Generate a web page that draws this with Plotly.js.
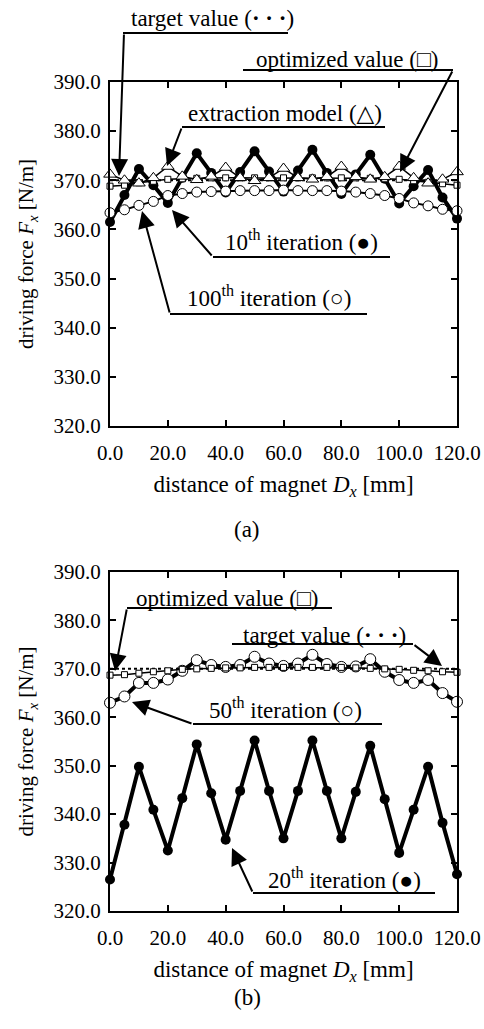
<!DOCTYPE html>
<html><head><meta charset="utf-8">
<script src="https://cdn.plot.ly/plotly-3.0.1.min.js"></script>
<style>body{margin:0;background:#fff}#plot{width:484px;height:1029px}</style>
</head><body><div id="plot"></div>
<script>
// distance of magnet Dx [mm]
const distance = [0,5,10,15,20,25,30,35,40,45,50,55,60,65,70,75,80,85,90,95,100,105,110,115,120];
// (a)
const a_iter10 = [361.5,367.0,372.3,369.0,365.4,370.5,375.5,371.5,367.5,371.7,375.9,371.8,367.7,372.0,376.2,371.5,367.2,371.2,375.2,370.3,365.3,368.8,372.1,366.5,362.2];
const a_iter100 = [363.4,364.0,364.9,365.7,366.9,367.3,367.6,367.7,367.8,367.9,367.9,367.9,368.0,367.9,367.9,367.9,367.8,367.6,367.3,366.9,366.3,365.4,364.8,364.1,363.8];
const a_extraction = [371.2,370.0,369.4,370.5,372.8,370.8,370.1,370.8,372.6,370.5,369.9,370.5,372.4,370.5,370.2,370.7,372.8,370.7,370.2,370.7,372.8,370.5,369.4,370.2,371.7];
const a_optimized = [368.8,369.0,369.5,369.8,370.2,370.3,370.4,370.5,370.5,370.5,370.5,370.5,370.5,370.5,370.5,370.5,370.5,370.5,370.4,370.3,370.2,369.9,369.6,369.3,369.0];
// (b)
const b_iter20 = [326.5,337.8,349.8,340.9,332.5,343.3,354.4,344.3,334.7,344.8,355.2,344.8,335.0,344.8,355.2,344.8,335.0,344.6,354.1,343.1,332.0,340.9,349.8,338.2,327.6];
const b_iter50 = [363.0,364.3,367.1,367.1,367.8,369.6,371.8,370.8,370.4,370.8,372.5,371.1,370.6,371.1,372.9,371.0,370.4,370.5,372.0,369.4,367.7,367.1,367.7,365.0,363.2];
const b_optimized = [368.7,368.8,369.1,369.4,369.6,369.9,370.0,370.1,370.2,370.2,370.3,370.3,370.3,370.3,370.3,370.3,370.3,370.2,370.1,370.0,369.9,369.7,369.6,369.4,369.3];
const targetX = [0,120];
const targetY = [370,370];
const xTicks = [0,20,40,60,80,100,120];
const yTicks = [320,330,340,350,360,370,380,390];

const W=484,H=1029;
const px=x=>x/W, py=y=>1-y/H;
const FONT='"Liberation Serif", "DejaVu Serif", serif';

function tr(x,y,xa,ya,o){return Object.assign({x:x,y:y,xaxis:xa,yaxis:ya,type:'scatter',showlegend:false,cliponaxis:false,hoverinfo:'skip'},o);}
const traces=[
 tr(distance,a_iter10,'x','y',{mode:'lines+markers',line:{color:'#000',width:4},marker:{symbol:'circle',size:10,color:'#000'}}),
 tr(distance,a_iter100,'x','y',{mode:'lines+markers',line:{color:'#000',width:2},marker:{symbol:'circle',size:10,color:'#fff',line:{color:'#000',width:1}}}),
 tr(targetX,targetY,'x','y',{mode:'lines',line:{color:'#000',width:2,dash:'dot'}}),
 tr(distance,a_optimized,'x','y',{mode:'lines+markers',line:{color:'#000',width:1.5},marker:{symbol:'square',size:6,color:'#fff',line:{color:'#000',width:1}}}),
 tr(distance,a_extraction,'x','y',{mode:'lines+markers',line:{color:'#000',width:1.5},marker:{symbol:'triangle-up',size:11,color:'#fff',line:{color:'#000',width:1}}}),
 tr(distance,b_iter20,'x2','y2',{mode:'lines+markers',line:{color:'#000',width:4},marker:{symbol:'circle',size:10,color:'#000'}}),
 tr(distance,b_iter50,'x2','y2',{mode:'lines+markers',line:{color:'#000',width:4},marker:{symbol:'circle',size:11,color:'#fff',line:{color:'#000',width:1}}}),
 tr(targetX,targetY,'x2','y2',{mode:'lines',line:{color:'#000',width:2,dash:'dot'}}),
 tr(distance,b_optimized,'x2','y2',{mode:'lines+markers',line:{color:'#000',width:1.5},marker:{symbol:'square',size:6,color:'#fff',line:{color:'#000',width:1}}})
];

function xa(dom,anchor){return {domain:dom,anchor:anchor,range:[0,120],tickvals:xTicks,tickformat:'.1f',ticks:'inside',ticklen:6,tickwidth:2,tickcolor:'#000',
 showline:true,linewidth:2,linecolor:'#000',mirror:'ticks',showgrid:false,zeroline:false,tickfont:{family:FONT,size:21,color:'#000'},ticklabelstandoff:7,
 title:{text:'distance of magnet <i>D</i><sub><i>x</i></sub> [mm]',font:{family:FONT,size:23,color:'#000'},standoff:12}};}
function ya(dom,anchor){return {domain:dom,anchor:anchor,range:[320,390],tickvals:yTicks,tickformat:'.1f',ticks:'inside',ticklen:6,tickwidth:2,tickcolor:'#000',
 showline:true,linewidth:2,linecolor:'#000',mirror:'ticks',showgrid:false,zeroline:false,tickfont:{family:FONT,size:21,color:'#000'},ticklabelstandoff:3,
 title:{text:'driving force <i>F</i><sub><i>x</i></sub> [N/m]',font:{family:FONT,size:21,color:'#000'},standoff:14}};}

const xdom=[px(110),px(457)];
const layout={width:W,height:H,margin:{l:0,r:0,t:0,b:0},paper_bgcolor:'#fff',plot_bgcolor:'#fff',showlegend:false,
 font:{family:FONT,color:'#000'},
 xaxis:xa(xdom,'y'), yaxis:ya([py(426),py(82)],'x'),
 xaxis2:xa(xdom,'y2'), yaxis2:ya([py(911),py(572)],'x2'),
 shapes:[],annotations:[]};

// labels: [text, cx, cy, underline x0, x1, y, tail x, tail y, tip x, tip y]
const labels=[
 ['target value (<b>· · ·</b>)',212,18,123,288,33,124,33,119,176],
 ['optimized value (□)',347,60,243,453,70,453,70,400,172],
 ['extraction model (△)',285,113,182,385,127,182,127,167,166],
 ['10<sup>th</sup> iteration (●)',301,240,213,390,257,213,257,172,210],
 ['100<sup>th</sup> iteration (○)',269,297,170,367,314,170,314,142,211],
 ['optimized value (□)',227,598,127,332,608,127,608,115,671],
 ['target value (<b>· · ·</b>)',324,635,232,413,644,413,644,442,666],
 ['50<sup>th</sup> iteration (○)',285,708,193,382,724,193,724,132,702],
 ['20<sup>th</sup> iteration (●)',344,878,253,435,893,253,893,232,848]
];
labels.forEach(l=>{
 layout.annotations.push({text:l[0],xref:'paper',yref:'paper',x:px(l[1]),y:py(l[2]),showarrow:false,xanchor:'center',yanchor:'middle',font:{family:FONT,size:23,color:'#000'}});
 layout.shapes.push({type:'line',xref:'paper',yref:'paper',x0:px(l[3]),x1:px(l[4]),y0:py(l[5]),y1:py(l[5]),line:{color:'#000',width:2}});
 layout.annotations.push({text:'',xref:'paper',yref:'paper',x:px(l[8]),y:py(l[9]),ax:l[6]-l[8],ay:l[7]-l[9],axref:'pixel',ayref:'pixel',showarrow:true,arrowhead:2,arrowsize:1.7,arrowwidth:2,arrowcolor:'#000'});
});
layout.annotations.push({text:'(a)',xref:'paper',yref:'paper',x:px(247),y:py(529),showarrow:false,font:{family:FONT,size:23,color:'#000'}});
layout.annotations.push({text:'(b)',xref:'paper',yref:'paper',x:px(248),y:py(1012),showarrow:false,font:{family:FONT,size:23,color:'#000'}});

Plotly.newPlot('plot',traces,layout,{staticPlot:true,displayModeBar:false});
</script></body></html>
